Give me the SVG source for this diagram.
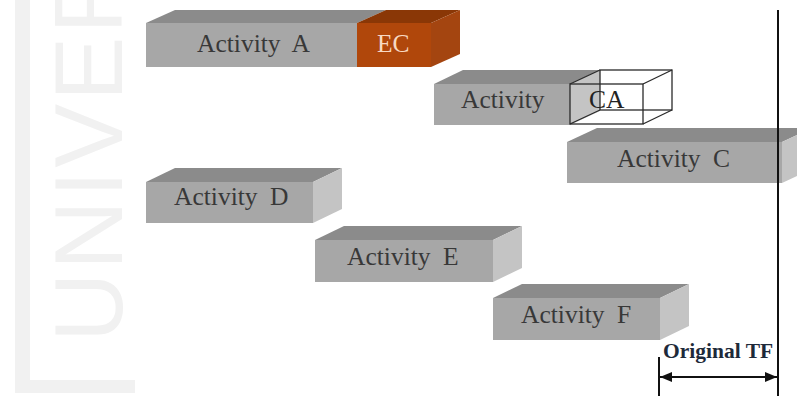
<svg xmlns="http://www.w3.org/2000/svg" width="797" height="396" viewBox="0 0 797 396">
<defs>
<style>
.front{fill:#a7a7a7}
.top{fill:#8b8b8b}
.side{fill:#c4c4c4}
.ecf{fill:#b0470b}
.ect{fill:#8a3706}
.ecs{fill:#a44510}
.lbl{font-family:"Liberation Serif","Times New Roman",serif;font-size:25.5px;fill:#383838;word-spacing:6px}
.wm{font-family:"Liberation Sans",Arial,sans-serif;font-size:96px;fill:#f1f1f1}
.wire{fill:none;stroke:#2a2a2a;stroke-width:1.3}
</style>
<marker id="ah" viewBox="0 0 12 10" refX="12" refY="5" markerWidth="12" markerHeight="10" markerUnits="userSpaceOnUse" orient="auto-start-reverse">
<path d="M0,0 L12,5 L0,10 z" fill="#111"/>
</marker>
</defs>
<rect width="797" height="396" fill="#ffffff"/>
<g id="watermark">
<text class="wm" transform="translate(122,342) rotate(-90)" letter-spacing="3">UNIVERS</text>
<rect x="15" y="0" width="15" height="393" fill="#f1f1f1"/>
<rect x="15" y="380" width="120" height="13" fill="#f1f1f1"/>
</g>
<g id="activity-a">
<polygon class="top" points="146,23 175,10 386,10 357,23"/>
<rect class="front" x="146" y="23" width="211" height="44"/>
<text class="lbl" x="197" y="52">Activity A</text>
</g>
<g id="ec">
<polygon class="ect" points="357,23 386,10 460,10 431,23"/>
<polygon class="ecs" points="431,23 460,10 460,54 431,67"/>
<rect class="ecf" x="357" y="23" width="74" height="44"/>
<text class="lbl" x="377" y="52" style="fill:#f7d9c4">EC</text>
</g>
<g id="activity-b">
<polygon class="top" points="434,84 463,70 600,70 570,84"/>
<polygon class="side" points="570,84 600,70 600,111 570,125"/>
<rect class="front" x="434" y="84" width="136" height="41"/>
<text class="lbl" x="461" y="108">Activity</text>
</g>
<g id="ca">
<rect class="wire" x="570" y="84" width="73" height="40"/>
<rect class="wire" x="600" y="70" width="72" height="40"/>
<path class="wire" d="M570,84 L600,70 M643,84 L672,70 M643,124 L672,110 M570,124 L600,110"/>
<text class="lbl" x="589" y="108" style="fill:#222">CA</text>
</g>
<g id="activity-c">
<polygon class="top" points="567,142 597,128 812,128 782,142"/>
<polygon class="side" points="782,142 812,128 812,169 782,183"/>
<rect class="front" x="567" y="142" width="215" height="41"/>
<text class="lbl" x="617" y="167">Activity C</text>
</g>
<g id="activity-d">
<polygon class="top" points="146,182 175,168 342,168 313,182"/>
<polygon class="side" points="313,182 342,168 342,209 313,223"/>
<rect class="front" x="146" y="182" width="167" height="41"/>
<text class="lbl" x="174" y="205">Activity D</text>
</g>
<g id="activity-e">
<polygon class="top" points="315,240 344,226 522,226 493,240"/>
<polygon class="side" points="493,240 522,226 522,268 493,282"/>
<rect class="front" x="315" y="240" width="178" height="42"/>
<text class="lbl" x="347" y="265">Activity E</text>
</g>
<g id="activity-f">
<polygon class="top" points="493,298 522,284 689,284 660,298"/>
<polygon class="side" points="660,298 689,284 689,326 660,340"/>
<rect class="front" x="493" y="298" width="167" height="42"/>
<text class="lbl" x="521" y="323">Activity F</text>
</g>
<g id="connectors">
<line x1="778" y1="10" x2="778" y2="396" stroke="#111" stroke-width="2"/>
<line x1="659" y1="357" x2="659" y2="396" stroke="#111" stroke-width="2"/>
<line x1="660" y1="377" x2="777" y2="377" stroke="#111" stroke-width="1.8" marker-start="url(#ah)" marker-end="url(#ah)"/>
</g>
<g id="original-tf">
<text x="663" y="358" style="font-family:'Liberation Serif','Times New Roman',serif;font-size:21.5px;font-weight:bold;fill:#1e2a3a">Original TF</text>
</g>
</svg>
